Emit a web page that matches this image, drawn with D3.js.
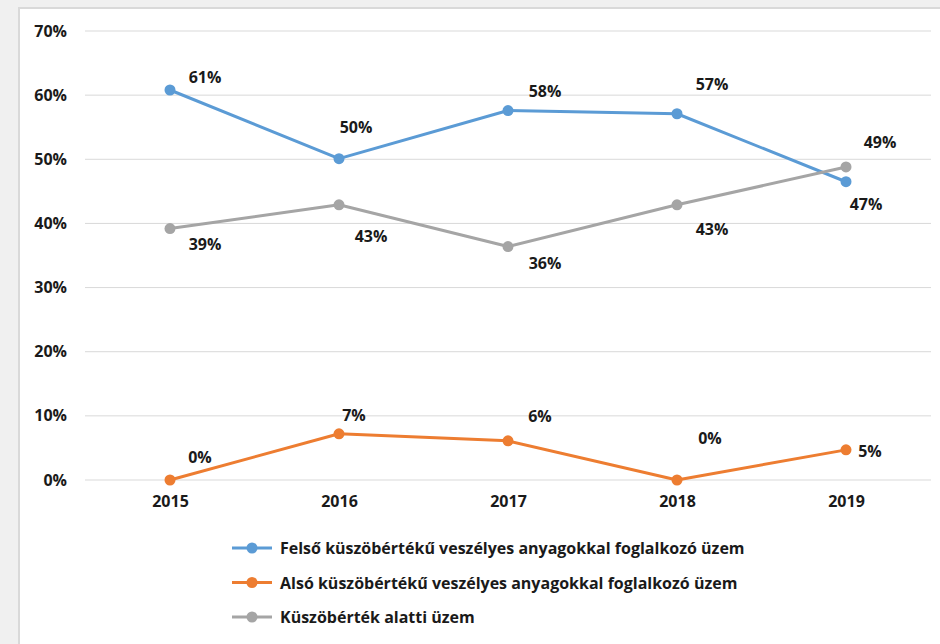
<!DOCTYPE html>
<html>
<head>
<meta charset="utf-8">
<script src="https://cdn.jsdelivr.net/npm/d3@7"></script>
<style>
  body { margin: 0; background: #f0f0f0; }
  svg { display: block; }
  text { font-family: "Open Sans", Lato, sans-serif; font-weight: bold; fill: #1a1a1a; }
</style>
</head>
<body>
<div id="chart"></div>
<script>
// Chart data
const years = ['2015', '2016', '2017', '2018', '2019'];
const felso = [0.608, 0.501, 0.576, 0.571, 0.465];
const also = [0.0, 0.072, 0.061, 0.0, 0.047];
const alatti = [0.392, 0.429, 0.364, 0.429, 0.488];
const seriesNames = [
    'Felső küszöbértékű veszélyes anyagokkal foglalkozó üzem',
    'Alsó küszöbértékű veszélyes anyagokkal foglalkozó üzem',
    'Küszöbérték alatti üzem'
];
const yTicks = [0, 0.1, 0.2, 0.3, 0.4, 0.5, 0.6, 0.7];

const colors = ['#5b9bd5', '#ed7d31', '#a5a5a5'];
// label offsets (dx, dy) from each point, as placed in the original
const labelOffsets = [
    [[35, -13], [17, -32], [37, -20], [35, -30], [20, 22]],
    [[30, -23], [15, -19], [32, -25], [33, -42], [24, 1]],
    [[35, 15], [32, 31], [37, 16], [35, 24], [34, -25]]
];

const W = 940, H = 644;
const svg = d3.select('#chart').append('svg')
    .attr('width', W)
    .attr('height', H);

// white chart area with frame
svg.append('rect')
    .attr('x', 19).attr('y', 8)
    .attr('width', W - 18).attr('height', H)
    .attr('fill', '#fff')
    .attr('stroke', '#d9d9d9')
    .attr('stroke-width', 2);

const x = d3.scalePoint()
    .domain(years)
    .range([85.5, 930.5])
    .padding(0.5);

const y = d3.scaleLinear()
    .domain([0, 0.7])
    .range([480, 31]);

// gridlines
svg.append('g')
    .selectAll('line')
    .data(yTicks)
    .join('line')
    .attr('x1', 85).attr('x2', 931)
    .attr('y1', d => y(d)).attr('y2', d => y(d))
    .attr('stroke', '#d9d9d9')
    .attr('stroke-width', 1);

// y axis labels
const yAxis = svg.append('g')
    .attr('transform', 'translate(67,0)')
    .call(d3.axisLeft(y).tickValues(yTicks).tickFormat(d3.format('.0%')).tickSize(0).tickPadding(0));
yAxis.select('.domain').remove();
yAxis.selectAll('text')
    .attr('font-size', 16)
    .attr('font-family', null)
    .attr('fill', '#1a1a1a');

// x axis labels
const xAxis = svg.append('g')
    .attr('transform', 'translate(0,496)')
    .call(d3.axisBottom(x).tickSize(0).tickPadding(0));
xAxis.select('.domain').remove();
xAxis.selectAll('text')
    .attr('font-size', 16)
    .attr('font-family', null)
    .attr('fill', '#1a1a1a');

const allSeries = [felso, also, alatti];
const line = d3.line()
    .x((d, i) => x(years[i]))
    .y(d => y(d));

allSeries.forEach((vals, s) => {
    const g = svg.append('g');
    g.append('path')
        .datum(vals)
        .attr('d', line)
        .attr('fill', 'none')
        .attr('stroke', colors[s])
        .attr('stroke-width', 3)
        .attr('stroke-linejoin', 'round');
    g.selectAll('circle')
        .data(vals)
        .join('circle')
        .attr('cx', (d, i) => x(years[i]))
        .attr('cy', d => y(d))
        .attr('r', 5.5)
        .attr('fill', colors[s]);
});

// data labels
allSeries.forEach((vals, s) => {
    svg.append('g')
        .selectAll('text')
        .data(vals)
        .join('text')
        .attr('x', (d, i) => x(years[i]) + labelOffsets[s][i][0])
        .attr('y', (d, i) => y(d) + labelOffsets[s][i][1])
        .attr('text-anchor', 'middle')
        .attr('dominant-baseline', 'central')
        .attr('font-size', 16)
        .text(d => d3.format('.0%')(d));
});

// legend
const legend = svg.append('g')
    .attr('transform', 'translate(232,548)');
seriesNames.forEach((name, s) => {
    const row = legend.append('g')
        .attr('transform', `translate(0,${s * 34.5})`);
    row.append('line')
        .attr('x1', 0).attr('x2', 40)
        .attr('stroke', colors[s])
        .attr('stroke-width', 3);
    row.append('circle')
        .attr('cx', 20)
        .attr('r', 5.5)
        .attr('fill', colors[s]);
    row.append('text')
        .attr('x', 48)
        .attr('dominant-baseline', 'central')
        .attr('font-size', 16)
        .text(name);
});
</script>
</body>
</html>
